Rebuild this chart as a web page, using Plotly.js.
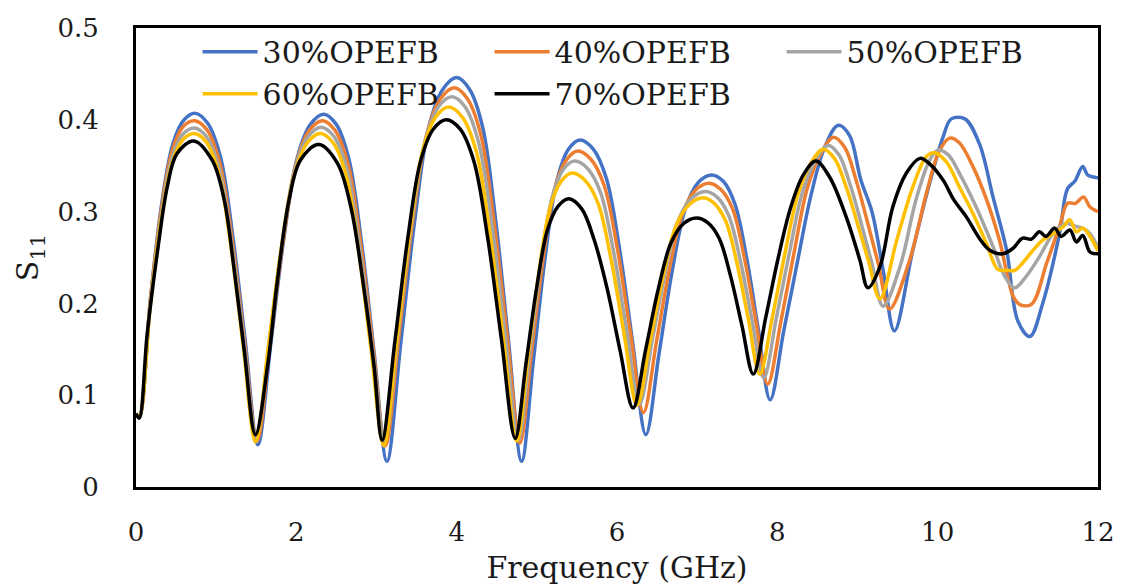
<!DOCTYPE html>
<html>
<head>
<meta charset="utf-8">
<script src="https://cdn.plot.ly/plotly-3.0.1.min.js"></script>
<style>html,body{margin:0;padding:0;background:#fff}#chart{width:1122px;height:587px}</style>
</head>
<body>
<div id="chart"></div>
<script>
// Series names
const seriesNames = ["30%OPEFB", "40%OPEFB", "50%OPEFB", "60%OPEFB", "70%OPEFB"];

// 30% OPEFB
const freq30 = [0,0.04,0.18,0.32,0.46,0.60,0.74,0.896,1.052,1.208,1.364,1.52,1.684,1.848,2.012,2.176,2.34,2.498,2.656,2.814,2.972,3.13,3.304,3.478,3.652,3.826,4.00,4.162,4.324,4.486,4.648,4.81,4.956,5.102,5.248,5.394,5.54,5.704,5.868,6.032,6.196,6.36,6.524,6.688,6.852,7.016,7.18,7.326,7.472,7.618,7.764,7.91,8.08,8.25,8.42,8.59,8.76,8.90,9.04,9.18,9.32,9.46,9.69,9.9,10.07,10.17,10.34,10.52,10.69,10.86,11.0,11.15,11.31,11.52,11.62,11.71,11.81,11.87,11.98,12];
const s30 = [0.08,0.076,0.205,0.308,0.374,0.400,0.407,0.396,0.360,0.273,0.158,0.046,0.158,0.273,0.359,0.395,0.406,0.395,0.357,0.266,0.145,0.028,0.158,0.291,0.392,0.433,0.446,0.433,0.392,0.291,0.158,0.028,0.137,0.249,0.333,0.368,0.378,0.368,0.336,0.259,0.157,0.057,0.145,0.235,0.303,0.332,0.340,0.333,0.308,0.249,0.171,0.095,0.170,0.245,0.318,0.370,0.394,0.383,0.335,0.300,0.236,0.170,0.258,0.331,0.382,0.401,0.401,0.374,0.316,0.258,0.181,0.164,0.200,0.276,0.325,0.333,0.349,0.340,0.337,0.337];

// 40% OPEFB
const freq40 = [0,0.04,0.178,0.316,0.454,0.592,0.73,0.886,1.042,1.198,1.354,1.51,1.674,1.838,2.002,2.166,2.33,2.486,2.642,2.798,2.954,3.11,3.282,3.454,3.626,3.798,3.97,4.134,4.298,4.462,4.626,4.79,4.934,5.078,5.222,5.366,5.51,5.674,5.838,6.002,6.166,6.33,6.494,6.658,6.822,6.986,7.15,7.296,7.442,7.588,7.734,7.88,8.044,8.208,8.372,8.536,8.70,8.84,8.98,9.12,9.26,9.40,9.65,9.86,10.02,10.15,10.27,10.44,10.61,10.77,10.94,11.02,11.17,11.36,11.52,11.62,11.72,11.82,11.9,12];
const s40 = [0.08,0.076,0.202,0.302,0.367,0.393,0.399,0.389,0.354,0.270,0.158,0.050,0.158,0.270,0.354,0.389,0.399,0.388,0.353,0.268,0.155,0.045,0.166,0.291,0.384,0.423,0.435,0.423,0.385,0.292,0.168,0.048,0.147,0.248,0.325,0.356,0.366,0.357,0.329,0.261,0.169,0.081,0.159,0.239,0.299,0.324,0.331,0.324,0.303,0.250,0.180,0.112,0.180,0.255,0.325,0.362,0.381,0.370,0.335,0.290,0.243,0.194,0.247,0.320,0.366,0.380,0.375,0.349,0.313,0.269,0.208,0.199,0.199,0.244,0.284,0.309,0.309,0.316,0.305,0.300];

// 50% OPEFB
const freq50 = [0,0.04,0.178,0.316,0.454,0.592,0.73,0.884,1.038,1.192,1.346,1.50,1.662,1.824,1.986,2.148,2.31,2.468,2.626,2.784,2.942,3.10,3.268,3.436,3.604,3.772,3.94,4.106,4.272,4.438,4.604,4.77,4.91,5.05,5.19,5.33,5.47,5.632,5.794,5.956,6.118,6.28,6.444,6.608,6.772,6.936,7.10,7.246,7.392,7.538,7.684,7.83,7.99,8.15,8.31,8.47,8.63,8.768,8.906,9.044,9.182,9.32,9.53,9.73,9.9,10.0,10.13,10.27,10.48,10.69,10.84,10.96,11.1,11.27,11.44,11.6,11.72,11.81,11.9,12];
const s50 = [0.08,0.076,0.199,0.297,0.360,0.385,0.391,0.381,0.347,0.266,0.158,0.054,0.159,0.267,0.348,0.382,0.392,0.382,0.348,0.265,0.156,0.050,0.166,0.286,0.376,0.414,0.425,0.414,0.376,0.287,0.167,0.051,0.145,0.243,0.315,0.346,0.355,0.347,0.321,0.257,0.172,0.090,0.162,0.236,0.292,0.315,0.322,0.316,0.296,0.247,0.182,0.119,0.185,0.255,0.320,0.355,0.372,0.362,0.330,0.288,0.243,0.197,0.240,0.313,0.356,0.367,0.362,0.342,0.305,0.262,0.229,0.217,0.229,0.251,0.276,0.287,0.284,0.282,0.276,0.261];

// 60% OPEFB
const freq60 = [0,0.04,0.178,0.316,0.454,0.592,0.73,0.882,1.034,1.186,1.338,1.49,1.652,1.814,1.976,2.138,2.30,2.458,2.616,2.774,2.932,3.09,3.252,3.414,3.576,3.738,3.90,4.07,4.24,4.41,4.58,4.75,4.888,5.026,5.164,5.302,5.44,5.602,5.764,5.926,6.088,6.25,6.414,6.578,6.742,6.906,7.07,7.212,7.354,7.496,7.638,7.78,7.938,8.096,8.254,8.412,8.57,8.712,8.854,8.996,9.138,9.28,9.49,9.69,9.86,9.96,10.11,10.27,10.44,10.61,10.75,10.86,10.96,11.06,11.19,11.31,11.44,11.56,11.65,11.73,11.81,11.9,12];
const s60 = [0.08,0.076,0.197,0.292,0.354,0.379,0.385,0.375,0.341,0.261,0.153,0.049,0.153,0.261,0.341,0.375,0.385,0.375,0.341,0.259,0.150,0.045,0.159,0.277,0.366,0.403,0.414,0.403,0.367,0.279,0.163,0.050,0.141,0.234,0.304,0.333,0.342,0.334,0.309,0.248,0.167,0.089,0.159,0.231,0.286,0.308,0.315,0.309,0.290,0.244,0.183,0.123,0.185,0.255,0.318,0.352,0.368,0.358,0.328,0.288,0.246,0.205,0.269,0.327,0.360,0.364,0.354,0.327,0.298,0.265,0.237,0.236,0.236,0.244,0.258,0.269,0.276,0.283,0.291,0.278,0.282,0.273,0.257];

// 70% OPEFB
const freq70 = [0,0.04,0.14,0.27,0.39,0.51,0.72,0.95,1.10,1.22,1.35,1.49,1.64,1.76,1.91,2.05,2.28,2.51,2.68,2.84,2.97,3.07,3.23,3.39,3.55,3.71,3.87,4.042,4.214,4.386,4.558,4.73,4.864,4.998,5.132,5.266,5.40,5.56,5.72,5.88,6.04,6.20,6.358,6.516,6.674,6.832,6.99,7.132,7.274,7.416,7.558,7.70,7.856,8.012,8.168,8.324,8.48,8.65,8.86,9.03,9.13,9.28,9.44,9.61,9.78,9.9,10.07,10.2,10.36,10.52,10.65,10.81,10.94,11.06,11.17,11.27,11.35,11.46,11.54,11.65,11.73,11.81,11.9,12];
const s70 = [0.08,0.075,0.167,0.258,0.327,0.363,0.377,0.356,0.313,0.240,0.149,0.057,0.131,0.222,0.313,0.356,0.373,0.353,0.305,0.218,0.131,0.051,0.159,0.271,0.355,0.390,0.400,0.390,0.355,0.272,0.161,0.053,0.134,0.217,0.280,0.306,0.314,0.303,0.268,0.215,0.148,0.086,0.150,0.216,0.266,0.287,0.293,0.288,0.271,0.230,0.176,0.123,0.185,0.250,0.305,0.340,0.355,0.338,0.294,0.247,0.217,0.240,0.305,0.342,0.358,0.352,0.334,0.313,0.294,0.271,0.258,0.254,0.260,0.271,0.270,0.278,0.273,0.282,0.273,0.280,0.267,0.274,0.256,0.254];

const seriesColors = ["#4472C4", "#ED7D31", "#A5A5A5", "#FFC000", "#000000"];
const xData = [freq30, freq40, freq50, freq60, freq70];
const yData = [s30, s40, s50, s60, s70];

const xTicks = [0, 2, 4, 6, 8, 10, 12];
const yTicks = [0, 0.1, 0.2, 0.3, 0.4, 0.5];
const yTickText = ["0", "0.1", "0.2", "0.3", "0.4", "0.5"];

const FONT = "DejaVu Serif, Liberation Serif, serif";

const traces = seriesNames.map((name, i) => ({
  type: "scatter",
  mode: "lines",
  name: name,
  x: xData[i],
  y: yData[i],
  line: {color: seriesColors[i], width: 3.5, shape: "spline", smoothing: 1}
}));

const layout = {
  width: 1122,
  height: 587,
  margin: {l: 136, r: 24, t: 28, b: 100},
  paper_bgcolor: "#ffffff",
  plot_bgcolor: "#ffffff",
  font: {family: FONT, color: "#1a1a1a", size: 24},
  showlegend: true,
  legend: {
    orientation: "h",
    x: 0.064, xanchor: "left",
    y: 1.005, yanchor: "top",
    bgcolor: "rgba(0,0,0,0)",
    font: {family: FONT, size: 30, color: "#1a1a1a"},
    entrywidth: 222, entrywidthmode: "pixels",
    itemwidth: 55,
    traceorder: "normal"
  },
  xaxis: {
    range: [0, 12],
    tickvals: xTicks,
    ticktext: xTicks.map(String),
    showgrid: false, zeroline: false,
    showline: true, linecolor: "#000", linewidth: 3, mirror: true,
    ticks: "", ticklabelstandoff: 20,
    tickfont: {family: FONT, size: 26, color: "#1a1a1a"},
    title: {text: "Frequency (GHz)", font: {family: FONT, size: 30, color: "#1a1a1a"}, standoff: 11}
  },
  yaxis: {
    range: [0, 0.5],
    tickvals: yTicks,
    ticktext: yTickText,
    showgrid: false, zeroline: false,
    showline: true, linecolor: "#000", linewidth: 3, mirror: true,
    ticks: "", ticklabelstandoff: 29,
    tickfont: {family: FONT, size: 26, color: "#1a1a1a"},
    title: {text: "S<sub>11</sub>", font: {family: FONT, size: 30, color: "#1a1a1a"}, standoff: 10}
  }
};

Plotly.newPlot("chart", traces, layout, {staticPlot: true, displayModeBar: false});
</script>
</body>
</html>
